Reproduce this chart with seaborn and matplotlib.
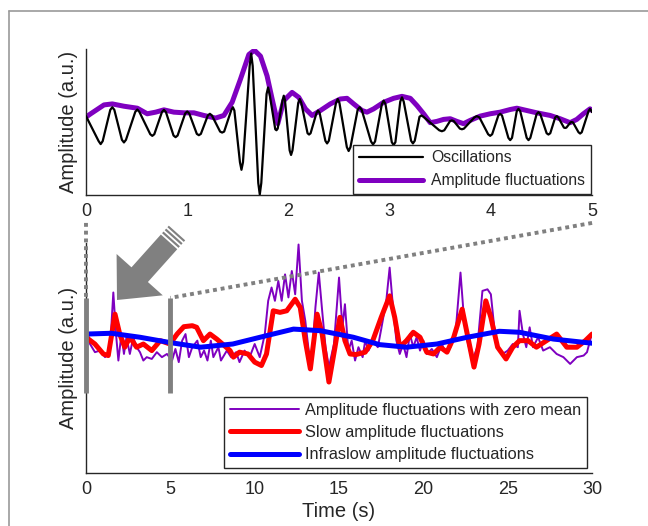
import numpy as np
import pandas as pd
import seaborn as sns
import matplotlib
matplotlib.use('Agg')
import matplotlib.pyplot as plt
from matplotlib.patches import ConnectionPatch, FancyArrow
from matplotlib.lines import Line2D

sns.set_style('white')
plt.rcParams['font.family'] = ['Liberation Sans', 'DejaVu Sans']

# top panel: 0-5 s zoom, oscillation (peaks, troughs and their shoulders)
osc_t = [0.000,
         0.125, 0.145, 0.165, 0.240, 0.260, 0.280, 0.355, 0.375, 0.395,
         0.487, 0.507, 0.527, 0.635, 0.655, 0.675, 0.750, 0.770, 0.790,
         0.865, 0.885, 0.905, 0.980, 1.000, 1.020, 1.095, 1.115, 1.135,
         1.204, 1.224, 1.244, 1.325, 1.345, 1.365, 1.436, 1.451, 1.466,
         1.521, 1.536, 1.551, 1.617, 1.632, 1.647, 1.702, 1.717, 1.732,
         1.784, 1.799, 1.814, 1.870, 1.882, 1.894, 1.942, 1.954, 1.966,
         2.012, 2.026, 2.040, 2.097, 2.112, 2.127, 2.189, 2.204, 2.219,
         2.278, 2.293, 2.308, 2.365, 2.382, 2.399, 2.470, 2.487, 2.504,
         2.577, 2.595, 2.613, 2.684, 2.704, 2.724, 2.816, 2.836, 2.856,
         2.923, 2.941, 2.959, 3.021, 3.039, 3.057, 3.105, 3.122, 3.139,
         3.212, 3.230, 3.248, 3.295, 3.313, 3.333, 3.490, 3.516, 3.540,
         3.597, 3.615, 3.633, 3.694, 3.714, 3.734, 3.837, 3.862, 3.887,
         3.973, 3.993, 4.013, 4.074, 4.092, 4.110, 4.173, 4.191, 4.209,
         4.256, 4.273, 4.290, 4.354, 4.372, 4.390, 4.452, 4.470, 4.488,
         4.551, 4.569, 4.587, 4.636, 4.651, 4.666, 4.722, 4.734, 4.746,
         4.787, 4.799, 4.811, 4.866, 4.882, 4.898, 4.965, 4.980, 5.000]
osc_v = [0.28,
         -0.48, -0.57, -0.48, 0.47, 0.55, 0.47, -0.44, -0.52, -0.44,
         0.41, 0.48, 0.41, -0.27, -0.32, -0.27, 0.40, 0.47, 0.40,
         -0.31, -0.36, -0.31, 0.36, 0.42, 0.36, -0.26, -0.30, -0.26,
         0.30, 0.35, 0.30, -0.19, -0.22, -0.19, 0.47, 0.55, 0.45,
         -1.12, -1.35, -1.12, 1.80, 2.18, 1.80, -1.75, -2.10, -1.75,
         0.95, 1.15, 0.95, -0.12, -0.15, -0.10, 0.76, 0.90, 0.76,
         -0.76, -0.90, -0.76, 0.68, 0.80, 0.68, -0.24, -0.28, -0.24,
         0.38, 0.45, 0.38, -0.47, -0.55, -0.47, 0.68, 0.80, 0.68,
         -0.66, -0.78, -0.66, 0.47, 0.55, 0.47, -0.49, -0.58, -0.49,
         0.64, 0.75, 0.64, -0.51, -0.60, -0.51, 0.72, 0.85, 0.72,
         -0.47, -0.55, -0.47, 0.26, 0.30, 0.26, -0.15, -0.18, -0.15,
         0.13, 0.15, 0.13, -0.10, -0.12, -0.10, 0.24, 0.28, 0.24,
         -0.27, -0.32, -0.27, 0.30, 0.35, 0.30, -0.38, -0.45, -0.38,
         0.43, 0.50, 0.43, -0.38, -0.45, -0.38, 0.34, 0.40, 0.34,
         -0.24, -0.28, -0.24, 0.24, 0.28, 0.24, -0.07, -0.08, -0.07,
         0.09, 0.10, 0.09, -0.21, -0.25, -0.21, 0.43, 0.50, 0.40]

env_t = [0.000, 0.046, 0.178, 0.260, 0.375, 0.507, 0.605, 0.688, 0.770, 0.868,
         0.967, 1.066, 1.164, 1.280, 1.362, 1.444, 1.526, 1.609, 1.664, 1.724,
         1.789, 1.839, 1.895, 1.954, 2.036, 2.102, 2.168, 2.234, 2.316, 2.414,
         2.513, 2.579, 2.645, 2.727, 2.776, 2.842, 2.941, 3.039, 3.122, 3.204,
         3.270, 3.336, 3.401, 3.467, 3.533, 3.599, 3.664, 3.730, 3.796, 3.895,
         3.993, 4.092, 4.191, 4.257, 4.355, 4.454, 4.586, 4.684, 4.783, 4.849,
         4.914, 4.980, 5.000]
env_v = [0.25, 0.35, 0.62, 0.65, 0.58, 0.52, 0.35, 0.40, 0.47, 0.40,
         0.38, 0.38, 0.30, 0.22, 0.30, 0.70, 1.40, 2.15, 2.28, 2.10,
         1.50, 0.80, 0.05, 0.75, 1.00, 0.85, 0.50, 0.30, 0.45, 0.65,
         0.80, 0.82, 0.65, 0.45, 0.40, 0.50, 0.70, 0.82, 0.88, 0.82,
         0.60, 0.35, 0.08, 0.12, 0.18, 0.20, 0.12, 0.05, 0.15, 0.28,
         0.35, 0.40, 0.48, 0.52, 0.45, 0.38, 0.30, 0.20, 0.08, 0.18,
         0.35, 0.50, 0.45]

# bottom panel: 0-30 s
amp_t = [0.08, 0.24, 0.53, 0.83, 1.13, 1.42, 1.62, 1.78, 1.92, 2.10,
         2.25, 2.40, 2.60, 2.80, 3.00, 3.20, 3.40, 3.60, 3.90, 4.20,
         4.50, 4.80, 5.10, 5.30, 5.50, 5.70, 5.90, 6.10, 6.30, 6.60,
         6.80, 7.00, 7.20, 7.40, 7.55, 7.85, 8.00, 8.35, 8.60, 8.90,
         9.10, 9.40, 9.70, 10.0, 10.3, 10.6, 10.8, 11.0, 11.2, 11.4,
         11.6, 11.8, 12.0, 12.2, 12.4, 12.6, 12.8, 13.0, 13.2, 13.4,
         13.6, 13.8, 14.0, 14.2, 14.4, 14.7, 15.0, 15.2, 15.35, 15.55,
         15.75, 15.95, 16.15, 16.4, 16.55, 16.75, 17.0, 17.3, 17.5, 17.8,
         18.0, 18.2, 18.4, 18.6, 18.8, 19.0, 19.2, 19.4, 19.6, 19.8,
         20.0, 20.2, 20.5, 20.8, 21.1, 21.3, 21.6, 21.9, 22.2, 22.4,
         22.6, 22.9, 23.2, 23.5, 23.8, 24.0, 24.2, 24.4, 24.7, 25.0,
         25.3, 25.6, 25.7, 25.9, 26.1, 26.3, 26.5, 26.8, 27.1, 27.5,
         27.9, 28.3, 28.7, 29.1, 29.5, 29.7, 29.93]
amp_v = [0.17, -0.17, -0.58, -0.50, -0.83, -0.50, 2.42, 0.33, -1.00, 0.33,
         -0.67, 0.17, -0.67, 0.17, -0.33, -0.58, -1.00, -0.83, -0.92, -0.58,
         -0.83, -0.67, -1.00, -0.42, -1.08, 0.00, 0.33, -0.83, -0.33, 0.00,
         -0.83, -0.50, -1.00, 0.00, -0.83, -0.33, -1.00, -0.50, -0.83, -0.58,
         -1.08, -0.50, -0.83, -0.17, -0.83, 0.33, 2.00, 2.67, 2.00, 3.00,
         2.00, 3.33, 2.17, 3.50, 2.33, 4.83, 2.00, 1.00, -0.50, -0.83,
         1.67, 3.42, 1.50, -0.33, -1.33, -0.17, 3.17, 0.67, 1.83, -0.50,
         0.00, -1.00, -0.33, -0.83, 0.00, -0.50, 0.00, -0.33, 0.58, 2.00,
         3.67, 1.67, 0.00, -0.67, -0.17, -0.83, 0.33, -0.33, 0.17, -0.50,
         0.00, -0.67, -0.42, -0.83, -0.17, -0.58, -0.33, 0.33, 3.42, 1.17,
         0.00, -1.00, -0.33, 2.50, 2.58, 2.33, 0.67, -0.33, -0.67, -0.50,
         -0.17, -0.33, 1.50, 0.33, -0.33, 0.67, -0.33, 0.17, -0.50, -0.33,
         -0.67, -0.83, -1.17, -0.83, -0.75, -0.58, 0.17]

slow_t = [0.00, 0.14, 0.53, 1.03, 1.32, 1.72, 2.00, 2.30, 2.60, 3.00,
          3.40, 3.90, 4.40, 4.98, 5.40, 5.80, 6.30, 6.56, 6.96, 7.35,
          7.75, 8.54, 8.74, 9.10, 9.60, 10.0, 10.4, 10.7, 11.1, 11.5,
          11.9, 12.4, 12.7, 13.0, 13.3, 13.7, 14.0, 14.4, 14.76, 15.05,
          15.35, 15.65, 16.0, 16.55, 17.0, 17.5, 18.0, 18.3, 18.6, 19.0,
          19.4, 19.8, 20.2, 20.6, 21.0, 21.4, 21.8, 22.3, 22.6, 23.0,
          23.3, 23.7, 24.0, 24.4, 24.9, 25.3, 25.7, 26.2, 26.7, 27.3,
          27.9, 28.5, 29.1, 29.6, 30.0]
slow_v = [0.25, 0.08, -0.17, -0.67, -0.75, 1.33, 0.33, -0.33, 0.17, -0.33,
          -0.17, -0.50, 0.00, -0.17, 0.33, 0.70, 0.75, 0.67, 0.00, 0.33,
          0.08, -0.50, -0.83, -0.58, -0.67, -1.08, -1.25, -0.67, 1.50, 1.42,
          1.50, 2.08, 1.67, 0.00, -1.42, 1.33, 0.33, -2.08, -0.33, 1.17,
          0.00, -0.67, -0.70, -0.58, 0.00, 1.17, 2.25, 1.17, -0.33, 0.00,
          0.42, 0.17, -0.58, -0.67, -0.33, -0.58, 0.17, 1.58, 0.33, -1.33,
          -0.17, 2.00, 1.17, -0.33, -0.92, -0.33, 0.00, 0.00, -0.33, 0.00,
          0.33, -0.33, -0.33, 0.00, 0.33]

infra_t = [0.0, 1.5, 3.2, 5.0, 6.8, 8.7, 10.7, 12.3, 13.9, 15.85,
           17.4, 19.0, 20.8, 22.6, 24.5, 25.7, 27.7, 30.0]
infra_v = [0.33, 0.37, 0.17, -0.10, -0.33, -0.17, 0.25, 0.58, 0.50, 0.17,
           -0.20, -0.33, -0.17, 0.17, 0.47, 0.42, 0.08, -0.13]

purple = '#7F00C0'
gray = '#808080'
ink = '#262626'

fig = plt.figure(figsize=(6.48, 5.26), dpi=100)
ax1 = fig.add_axes([0.1327, 0.629, 0.781, 0.278])
ax2 = fig.add_axes([0.1327, 0.1008, 0.781, 0.437])

sns.lineplot(x=env_t, y=env_v, ax=ax1, color=purple, lw=3.6, zorder=2,
             estimator=None, sort=False, label='Amplitude fluctuations')
sns.lineplot(x=osc_t, y=osc_v, ax=ax1, color='black', lw=1.6, zorder=3,
             estimator=None, sort=False, label='Oscillations')

sns.lineplot(x=amp_t, y=amp_v, ax=ax2, color=purple, lw=1.4, zorder=2,
             estimator=None, sort=False, label='Amplitude fluctuations with zero mean')
sns.lineplot(x=slow_t, y=slow_v, ax=ax2, color='#FF0000', lw=3.6, zorder=3,
             estimator=None, sort=False, label='Slow amplitude fluctuations')
sns.lineplot(x=infra_t, y=infra_v, ax=ax2, color='#0000FF', lw=3.6, zorder=4,
             estimator=None, sort=False, label='Infraslow amplitude fluctuations')

ax1.set_xlim(0, 5)
ax1.set_ylim(-2.12, 2.32)
ax1.set_xticks(range(6))
ax2.set_xlim(0, 30)
ax2.set_ylim(-6.65, 4.9)
ax2.set_xticks(range(0, 31, 5))

for ax in (ax1, ax2):
    sns.despine(ax=ax)
    for s in ('left', 'bottom'):
        ax.spines[s].set_color(ink)
        ax.spines[s].set_linewidth(1.0)
    ax.set_yticks([])
    ax.tick_params(axis='x', direction='in', length=4, width=1, color=ink,
                   labelcolor=ink, labelsize=13, pad=6)
    ax.set_ylabel('Amplitude (a.u.)', fontsize=14.5, color=ink, labelpad=6)
    ax.set_xlabel('')
ax2.set_xlabel('Time (s)', fontsize=14.5, color=ink, labelpad=3)

h, l = ax1.get_legend_handles_labels()
leg1 = ax1.legend(h[::-1], l[::-1], loc='lower right', fontsize=11.3, handlelength=4.1,
                  fancybox=False, edgecolor=ink, borderaxespad=0.1, labelspacing=0.5,
                  handletextpad=0.5, borderpad=0.35)
leg2 = ax2.legend(loc='lower right', fontsize=11.8, handlelength=4.2,
                  fancybox=False, edgecolor=ink, borderaxespad=0.3, labelspacing=0.45,
                  handletextpad=0.4, borderpad=0.35)
for leg in (leg1, leg2):
    leg.get_frame().set_linewidth(1.0)
    leg.get_frame().set_alpha(1)

# zoom markers: 0-5 s window in the lower panel, linked to the upper panel
ax2.vlines([0, 5], -2.65, 2.15, color=gray, lw=3.5, zorder=6, clip_on=False)
for x0 in (0, 5):
    con = ConnectionPatch(xyA=(x0, -0.19), coordsA=ax1.get_xaxis_transform(),
                          xyB=(x0, 2.15), coordsB=ax2.transData,
                          color=gray, lw=2.8, linestyle=(0, (1, 1)),
                          capstyle='butt', zorder=5)
    fig.add_artist(con)

# big gray arrow pointing at the window
tail = np.array([1.77, 2.93])
tip = np.array([1.17, 2.26])
d = tip - tail
arrow = FancyArrow(tail[0], tail[1], d[0], d[1], width=0.22, head_width=0.62,
                   head_length=0.34, length_includes_head=True, color=gray,
                   lw=0, transform=fig.dpi_scale_trans)
fig.add_artist(arrow)
u = d / np.linalg.norm(d)
n = np.array([-u[1], u[0]])
for k in (0.03, 0.07, 0.11):
    c = tail + u * k
    p1, p2 = c + n * 0.12, c - n * 0.12
    fig.add_artist(Line2D([p1[0], p2[0]], [p1[1], p2[1]], color='white', lw=1.3,
                          transform=fig.dpi_scale_trans))

# outer frame (top and left edges)
fig.add_artist(Line2D([9 / 648, 9 / 648], [0, 1 - 11 / 526], color='#9a9a9a', lw=1.2,
                      transform=fig.transFigure))
fig.add_artist(Line2D([9 / 648, 1], [1 - 11 / 526, 1 - 11 / 526], color='#9a9a9a', lw=1.2,
                      transform=fig.transFigure))

fig.savefig('out.png', dpi=100)
